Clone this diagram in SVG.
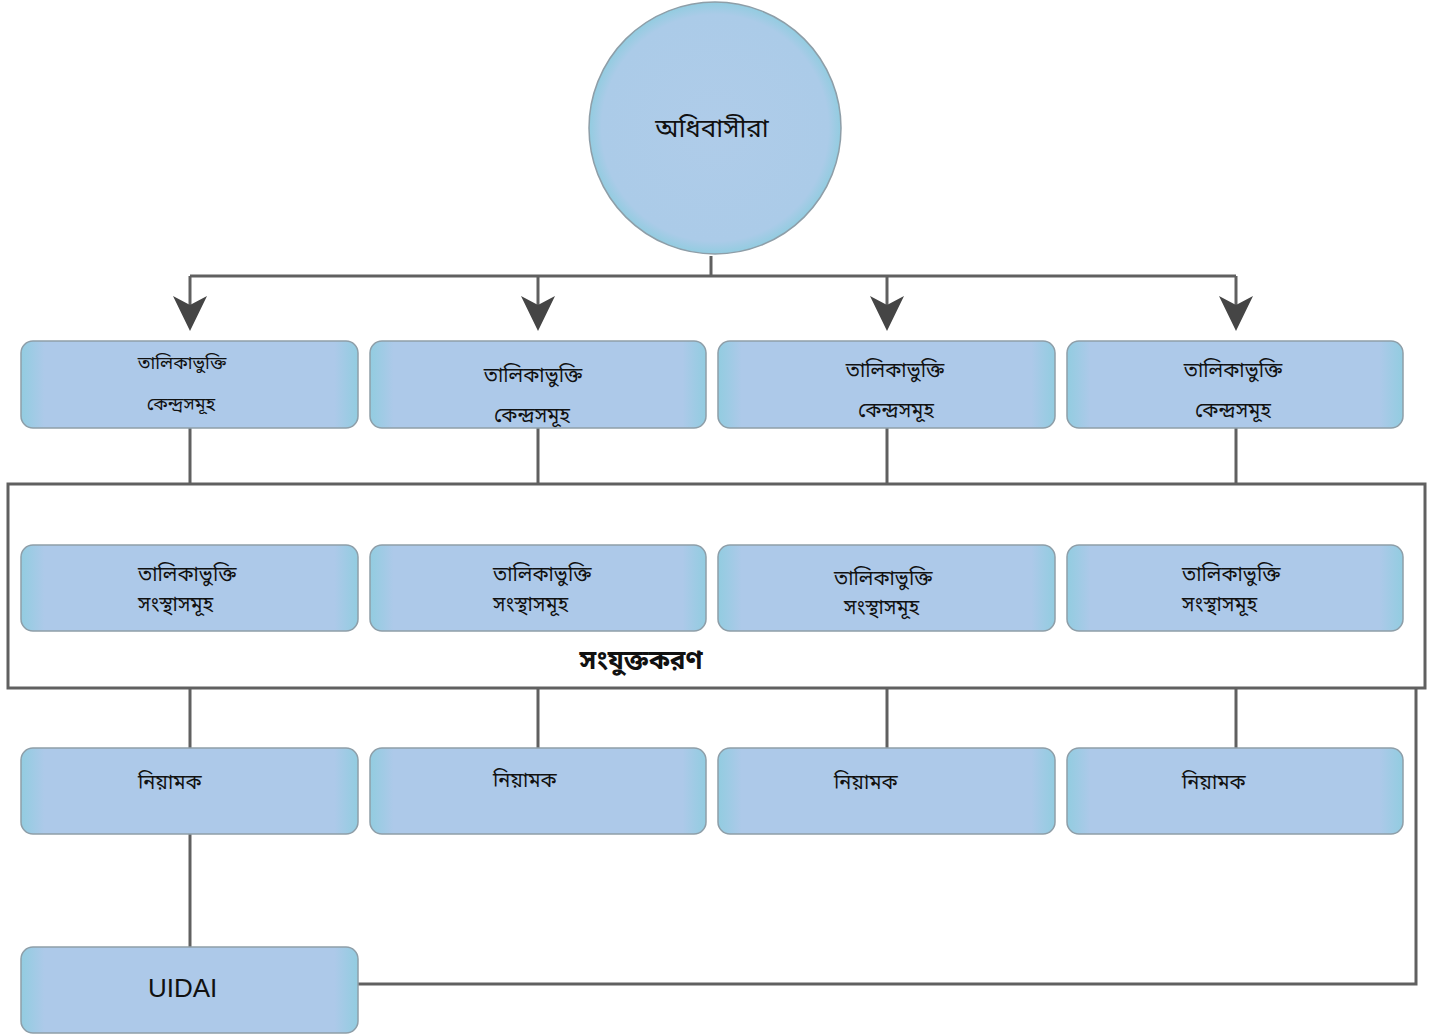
<svg xmlns="http://www.w3.org/2000/svg" width="1446" height="1035" viewBox="0 0 1446 1035">
<defs>
<linearGradient id="boxg" x1="0" y1="0" x2="1" y2="0">
<stop offset="0" stop-color="#92cce0"/>
<stop offset="0.03" stop-color="#9dcbe4"/>
<stop offset="0.07" stop-color="#adc9e9"/>
<stop offset="0.93" stop-color="#adc9e9"/>
<stop offset="0.97" stop-color="#9dcbe4"/>
<stop offset="1" stop-color="#92cce0"/>
</linearGradient>
<radialGradient id="circg" cx="0.5" cy="0.5" r="0.5">
<stop offset="0" stop-color="#afcce9"/>
<stop offset="0.9" stop-color="#abcbe8"/>
<stop offset="1" stop-color="#92cce0"/>
</radialGradient>
<marker id="arr" viewBox="0 0 36 36" refX="24" refY="18" markerWidth="36" markerHeight="36" markerUnits="userSpaceOnUse" orient="auto">
<path d="M1,1 L10,18 L1,35 L36,18 Z" fill="#454545"/>
</marker>
</defs>
<style>
.box{fill:url(#boxg);stroke:#8e9ea8;stroke-width:1.5}
.ln{fill:none;stroke:#606060;stroke-width:3}
.t{font-family:"Noto Sans Bengali","Lohit Bengali","Noto Sans","DejaVu Sans",sans-serif;font-size:20px;fill:#111}
.s{font-size:18px}
.big{font-size:26px}
.tc{text-anchor:middle}
.b{font-weight:bold;font-size:26px}
.u{font-family:"Liberation Sans",Arial,sans-serif;font-size:26px;fill:#111}
</style>
<rect width="1446" height="1035" fill="#ffffff"/>
<g id="connectors">
<path class="ln" d="M711,256 V276"/>
<path class="ln" d="M190,276 H1236"/>
<path class="ln" d="M190,276 V319" marker-end="url(#arr)"/>
<path class="ln" d="M538,276 V319" marker-end="url(#arr)"/>
<path class="ln" d="M887,276 V319" marker-end="url(#arr)"/>
<path class="ln" d="M1236,276 V319" marker-end="url(#arr)"/>
<path class="ln" d="M190,428 V484 M538,428 V484 M887,428 V484 M1236,428 V484"/>
<path class="ln" d="M190,688 V748 M538,688 V748 M887,688 V748 M1236,688 V748"/>
<path class="ln" d="M190,834 V947"/>
<path class="ln" d="M358,984 H1416 V688"/>
</g>
<g id="group-integration">
<rect x="8" y="484" width="1417" height="204" fill="none" stroke="#606060" stroke-width="3"/>
<text class="t b" x="641" y="669" text-anchor="middle">সংযুক্তকরণ</text>
</g>
<g id="node-residents">
<circle cx="715" cy="128" r="126" fill="url(#circg)" stroke="#8e9ea8" stroke-width="1.5"/>
<text class="t big tc" x="712" y="137">অধিবাসীরা</text>
</g>
<g id="node-center-1">
<rect class="box" x="21" y="341" width="337" height="87" rx="12"/>
<text class="t s tc" x="182" y="369">তালিকাভুক্তি</text>
<text class="t s tc" x="181" y="410">কেন্দ্রসমূহ</text>
</g>
<g id="node-center-2">
<rect class="box" x="370" y="341" width="336" height="87" rx="12"/>
<text class="t tc" x="533" y="382">তালিকাভুক্তি</text>
<text class="t tc" x="532" y="422">কেন্দ্রসমূহ</text>
</g>
<g id="node-center-3">
<rect class="box" x="718" y="341" width="337" height="87" rx="12"/>
<text class="t tc" x="895" y="377">তালিকাভুক্তি</text>
<text class="t tc" x="896" y="417">কেন্দ্রসমূহ</text>
</g>
<g id="node-center-4">
<rect class="box" x="1067" y="341" width="336" height="87" rx="12"/>
<text class="t tc" x="1233" y="377">তালিকাভুক্তি</text>
<text class="t tc" x="1233" y="417">কেন্দ্রসমূহ</text>
</g>
<g id="node-agency-1">
<rect class="box" x="21" y="545" width="337" height="86" rx="12"/>
<text class="t" x="138" y="581">তালিকাভুক্তি</text>
<text class="t" x="138" y="611">সংস্থাসমূহ</text>
</g>
<g id="node-agency-2">
<rect class="box" x="370" y="545" width="336" height="86" rx="12"/>
<text class="t" x="493" y="581">তালিকাভুক্তি</text>
<text class="t" x="493" y="611">সংস্থাসমূহ</text>
</g>
<g id="node-agency-3">
<rect class="box" x="718" y="545" width="337" height="86" rx="12"/>
<text class="t" x="834" y="585">তালিকাভুক্তি</text>
<text class="t" x="844" y="614">সংস্থাসমূহ</text>
</g>
<g id="node-agency-4">
<rect class="box" x="1067" y="545" width="336" height="86" rx="12"/>
<text class="t" x="1182" y="581">তালিকাভুক্তি</text>
<text class="t" x="1182" y="611">সংস্থাসমূহ</text>
</g>
<g id="node-registrar-1">
<rect class="box" x="21" y="748" width="337" height="86" rx="12"/>
<text class="t" x="138" y="789">নিয়ামক</text>
</g>
<g id="node-registrar-2">
<rect class="box" x="370" y="748" width="336" height="86" rx="12"/>
<text class="t" x="493" y="787">নিয়ামক</text>
</g>
<g id="node-registrar-3">
<rect class="box" x="718" y="748" width="337" height="86" rx="12"/>
<text class="t" x="834" y="789">নিয়ামক</text>
</g>
<g id="node-registrar-4">
<rect class="box" x="1067" y="748" width="336" height="86" rx="12"/>
<text class="t" x="1182" y="789">নিয়ামক</text>
</g>
<g id="node-uidai">
<rect class="box" x="21" y="947" width="337" height="86" rx="12"/>
<text class="u" x="148" y="997">UIDAI</text>
</g>
</svg>
